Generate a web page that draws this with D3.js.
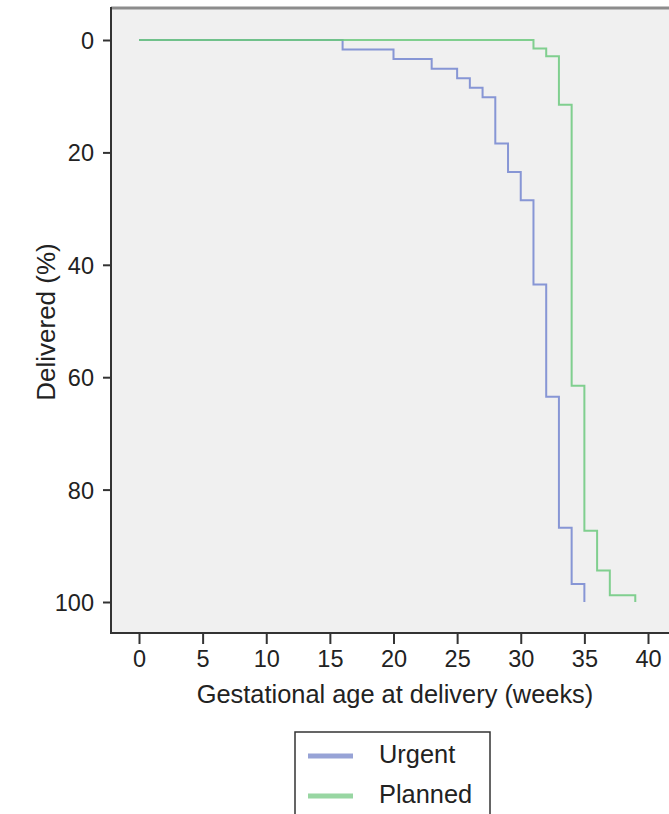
<!DOCTYPE html>
<html>
<head>
<meta charset="utf-8">
<script src="https://cdn.jsdelivr.net/npm/d3@7"></script>
<style>
  body { margin: 0; background: #fff; }
  svg { display: block; font-family: "Liberation Sans", Arial, sans-serif; }
</style>
</head>
<body>
<svg width="669" height="814"></svg>
<script>
// Kaplan-Meier style cumulative delivery curves
var urgentWeeks = [0, 16, 20, 23, 25, 26, 27, 28, 29, 30, 31, 32, 33, 34, 35];
var urgentPct   = [0, 1.7, 3.4, 5.1, 6.8, 8.5, 10.2, 18.4, 23.5, 28.5, 43.5, 63.5, 86.8, 96.8, 100];

var plannedWeeks = [0, 31, 32, 33, 34, 35, 36, 37, 39];
var plannedPct   = [0, 1.5, 2.9, 11.5, 61.5, 87.3, 94.4, 98.8, 100];

var xTicks = [0, 5, 10, 15, 20, 25, 30, 35, 40];
var yTicks = [0, 20, 40, 60, 80, 100];

var seriesNames = ["Urgent", "Planned"];
var lineColors = ["#7486d0", "#6cc97e"];
var swatchColors = ["#97a3d6", "#98d6a2"];

var svg = d3.select("svg");

var x = d3.scaleLinear().domain([0, 40]).range([139, 648]);
var y = d3.scaleLinear().domain([0, 100]).range([40, 602]);

// panel edges (don't use "top", it's window.top)
var pLeft = 111, pTop = 8, pBottom = 633, pRight = 672;

// plot panel
svg.append("rect")
    .attr("x", pLeft).attr("y", pTop)
    .attr("width", pRight - pLeft).attr("height", pBottom - pTop)
    .attr("fill", "#f0f0f0");

svg.append("line")
    .attr("x1", pLeft).attr("x2", pRight)
    .attr("y1", pTop).attr("y2", pTop)
    .attr("stroke", "#8c8c8c").attr("stroke-width", 3);

svg.append("path")
    .attr("d", "M" + pLeft + "," + (pTop - 1) + "V" + pBottom + "H" + pRight)
    .attr("fill", "none")
    .attr("stroke", "#333").attr("stroke-width", 2);

// axes
var yAxis = svg.append("g")
    .attr("transform", "translate(" + pLeft + ",0)")
    .call(d3.axisLeft(y).tickValues(yTicks).tickSize(8).tickPadding(9));

var xAxis = svg.append("g")
    .attr("transform", "translate(0," + pBottom + ")")
    .call(d3.axisBottom(x).tickValues(xTicks).tickSize(11).tickPadding(6));

[yAxis, xAxis].forEach(function(g) {
  g.select(".domain").remove();
  g.selectAll("line").attr("stroke", "#333").attr("stroke-width", 2);
  g.selectAll("text")
      .attr("fill", "#222")
      .style("font-size", "23.5px")
      .style("font-family", "\"Liberation Sans\", Arial, sans-serif");
});
yAxis.selectAll("text").attr("dy", "0.36em");

// axis titles
svg.append("text")
    .attr("x", 395).attr("y", 703)
    .attr("text-anchor", "middle")
    .attr("fill", "#222")
    .style("font-size", "25.4px")
    .text("Gestational age at delivery (weeks)");

svg.append("text")
    .attr("transform", "translate(55,322) rotate(-90)")
    .attr("text-anchor", "middle")
    .attr("fill", "#222")
    .style("font-size", "26px")
    .text("Delivered (%)");

// step curves
var line = d3.line()
    .x(function(d) { return x(d[0]); })
    .y(function(d) { return y(d[1]); })
    .curve(d3.curveStepAfter);

var series = [
  d3.zip(urgentWeeks, urgentPct),
  d3.zip(plannedWeeks, plannedPct)
];

svg.append("g")
    .selectAll("path")
    .data(series)
    .enter().append("path")
    .attr("d", line)
    .attr("fill", "none")
    .attr("stroke", function(d, i) { return lineColors[i]; })
    .attr("stroke-width", 2)
    .attr("stroke-opacity", 0.85);

// legend
var legend = svg.append("g");

legend.append("rect")
    .attr("x", 295).attr("y", 732)
    .attr("width", 195).attr("height", 100)
    .attr("fill", "#fff")
    .attr("stroke", "#333").attr("stroke-width", 1.5);

var item = legend.selectAll("g.item")
    .data(seriesNames)
    .enter().append("g")
    .attr("class", "item")
    .attr("transform", function(d, i) { return "translate(0," + (756 + i * 40) + ")"; });

item.append("line")
    .attr("x1", 308).attr("x2", 353)
    .attr("stroke", function(d, i) { return swatchColors[i]; })
    .attr("stroke-width", 5);

item.append("text")
    .attr("x", 379).attr("y", 7)
    .attr("fill", "#222")
    .style("font-size", "25.4px")
    .text(function(d) { return d; });
</script>
</body>
</html>
